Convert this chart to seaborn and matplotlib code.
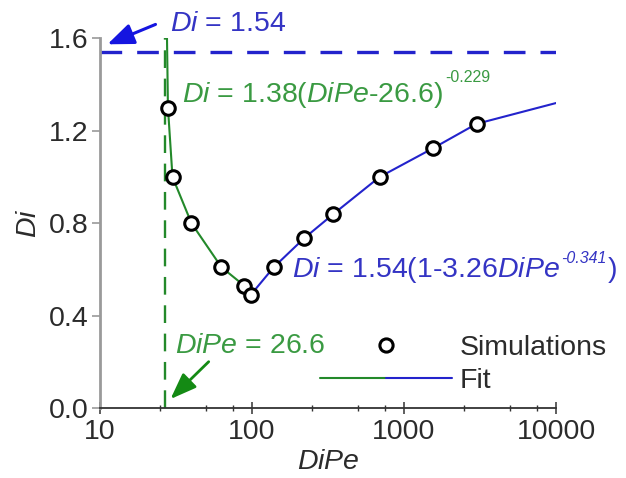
import matplotlib
matplotlib.use("Agg")
import matplotlib.pyplot as plt
import numpy as np
import pandas as pd
import seaborn as sns
from matplotlib.lines import Line2D
from matplotlib.legend_handler import HandlerTuple
from matplotlib.ticker import FixedLocator, FixedFormatter, NullFormatter

# ---- data ----
sim_dipe = [28, 30, 40, 63, 89, 98, 139, 220, 343, 690, 1557, 3000]
sim_di = [1.30, 1.00, 0.80, 0.61, 0.53, 0.49, 0.61, 0.735, 0.84, 1.00, 1.125, 1.23]

green_fit_dipe = [27.6, 28, 30, 40, 63, 89, 98]
green_fit_di = [1.60, 1.30, 1.00, 0.80, 0.61, 0.53, 0.49]

blue_fit_dipe = [98, 139, 220, 343, 690, 1557, 3000, 10000]
blue_fit_di = [0.49, 0.61, 0.735, 0.84, 1.00, 1.125, 1.23, 1.32]

di_limit = 1.54
dipe_limit = 26.6

x_ticks = [10, 100, 1000, 10000]
x_tick_labels = ["10", "100", "1000", "10000"]
x_minor = [25, 50, 75, 250, 500, 750, 2500, 5000, 7500]
y_ticks = [0.0, 0.4, 0.8, 1.2, 1.6]
y_tick_labels = ["0.0", "0.4", "0.8", "1.2", "1.6"]

# ---- style ----
sns.set_theme(style="white")
plt.rcParams["font.family"] = ["Liberation Sans", "DejaVu Sans"]
plt.rcParams["mathtext.fontset"] = "custom"
plt.rcParams["mathtext.rm"] = "Liberation Sans"
plt.rcParams["mathtext.it"] = "Liberation Sans:italic"
plt.rcParams["mathtext.bf"] = "Liberation Sans:bold"

GREEN_LINE = "#23892a"
GREEN_TEXT = "#3a9a42"
BLUE_LINE = "#2323cc"
BLUE_TEXT = "#3434c4"
FS = 20.5
SUP = 11.5

fig = plt.figure(figsize=(6.26, 4.78), dpi=100)
ax = fig.add_axes([0.1597, 0.1458, 0.7285, 0.7741])
ax.set_xscale("log")

sim_df = pd.DataFrame({"DiPe": sim_dipe, "Di": sim_di})
green_df = pd.DataFrame({"DiPe": green_fit_dipe, "Di": green_fit_di})
blue_df = pd.DataFrame({"DiPe": blue_fit_dipe, "Di": blue_fit_di})

# reference lines
ax.axhline(di_limit, color=BLUE_LINE, lw=2.4, dashes=(6.5, 4.5), zorder=2)
ax.axvline(dipe_limit, color=GREEN_LINE, lw=1.7, dashes=(7.5, 4.5), zorder=2)

sns.lineplot(data=green_df, x="DiPe", y="Di", ax=ax, color=GREEN_LINE, lw=1.5,
             sort=False, estimator=None, zorder=3)
sns.lineplot(data=blue_df, x="DiPe", y="Di", ax=ax, color=BLUE_LINE, lw=1.5,
             sort=False, estimator=None, zorder=3)
sns.scatterplot(data=sim_df, x="DiPe", y="Di", ax=ax, marker="o", s=95,
                facecolor="white", edgecolor="black", linewidth=2.2, zorder=4)

ax.set_xlim(10, 10000)
ax.set_ylim(0, 1.6)

ax.xaxis.set_major_locator(FixedLocator(x_ticks))
ax.xaxis.set_major_formatter(FixedFormatter(x_tick_labels))
ax.xaxis.set_minor_locator(FixedLocator(x_minor))
ax.xaxis.set_minor_formatter(NullFormatter())
ax.yaxis.set_major_locator(FixedLocator(y_ticks))
ax.yaxis.set_major_formatter(FixedFormatter(y_tick_labels))

for s in ["top", "right"]:
    ax.spines[s].set_visible(False)
ax.spines["left"].set_color("#9a9a9a")
ax.spines["left"].set_linewidth(2.0)
ax.spines["bottom"].set_color("#333333")
ax.spines["bottom"].set_linewidth(1.3)

ax.tick_params(axis="x", which="major", direction="inout", length=9, width=1.1,
               color="#333333", labelsize=FS, labelcolor="#2b2b2b", pad=3, bottom=True)
ax.tick_params(axis="x", which="minor", direction="inout", length=5, width=1.0,
               color="#333333", bottom=True)
ax.tick_params(axis="y", which="major", direction="out", length=6, width=1.2,
               color="#9a9a9a", labelsize=FS, labelcolor="#2b2b2b", pad=2, left=True)

ax.set_xlabel("$DiPe$", fontsize=FS, color="#2b2b2b", labelpad=3)
ax.set_ylabel("$Di$", fontsize=FS, color="#2b2b2b", labelpad=5)

# ---- annotations ----
ax.text(29.1, 1.6325, "$Di$ = 1.54", color=BLUE_TEXT, fontsize=FS, va="baseline",
        ha="left", clip_on=False)
ax.annotate("", xy=(11.2, 1.574), xytext=(23.2, 1.66), annotation_clip=False,
            arrowprops=dict(arrowstyle="-|>,head_length=0.8,head_width=0.32",
                            color="#1515e0", lw=2.2, mutation_scale=20,
                            shrinkA=0, shrinkB=0))

# green fit equation with small superscript
g_main = ax.text(34.7, 1.3256, "$Di$ = 1.38($DiPe$-26.6)", color=GREEN_TEXT,
                 fontsize=FS, va="baseline", ha="left")
ax.annotate("-0.229", xy=(1, 1), xycoords=g_main, xytext=(2.0, -1.5),
            textcoords="offset points", color=GREEN_TEXT, fontsize=SUP,
            va="baseline", ha="left")

# blue fit equation with small italic superscript
b_main = ax.text(183, 0.566, "$Di$ = 1.54(1-3.26$DiPe$", color=BLUE_TEXT,
                 fontsize=FS, va="baseline", ha="left")
b_sup = ax.annotate("-0.341", xy=(1, 1), xycoords=b_main, xytext=(0.8, -5.8),
                    textcoords="offset points", color=BLUE_TEXT, fontsize=SUP,
                    style="italic", va="baseline", ha="left", annotation_clip=False)
ax.annotate("$)$", xy=(1, 0), xycoords=(b_sup, b_main), xytext=(0.8, 0),
            textcoords="offset points", color=BLUE_TEXT, fontsize=FS,
            va="bottom", ha="left", annotation_clip=False)

ax.text(31.3, 0.2378, "$DiPe$ = 26.6", color=GREEN_TEXT, fontsize=FS,
        va="baseline", ha="left")
ax.annotate("", xy=(29.1, 0.040), xytext=(51.9, 0.2015),
            arrowprops=dict(arrowstyle="-|>,head_length=0.8,head_width=0.3",
                            color="#148a14", lw=2.0, mutation_scale=20,
                            shrinkA=0, shrinkB=0))

# ---- legend ----
sim_handle = Line2D([], [], ls="none", marker="o", markersize=9.5,
                    markerfacecolor="white", markeredgecolor="black",
                    markeredgewidth=2.2)
fit_handle = (Line2D([], [], color=GREEN_LINE, lw=1.5),
              Line2D([], [], color=BLUE_LINE, lw=1.5))
ax.legend([sim_handle, fit_handle], ["Simulations", "Fit"],
          handler_map={tuple: HandlerTuple(ndivide=None, pad=0)},
          loc="center left", bbox_to_anchor=(0.4825, 0.1186), frameon=False,
          fontsize=FS, handlelength=4.64, handletextpad=0.28, labelspacing=0.22,
          borderpad=0, borderaxespad=0, labelcolor="#2b2b2b")

fig.savefig("out.png", dpi=100)
